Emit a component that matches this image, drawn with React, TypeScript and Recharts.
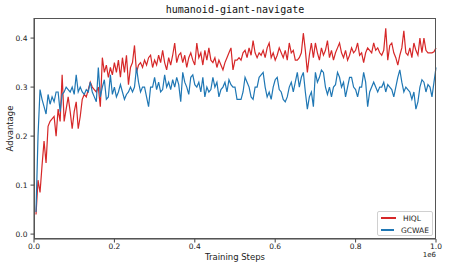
import React from 'react';
import { LineChart, Line, XAxis, YAxis } from 'recharts';

const title = 'humanoid-giant-navigate';
const seriesNames = ['HIQL', 'GCWAE'];
const seriesColors = ['#d62728', '#1f77b4'];
const xTicks = [0, 200000, 400000, 600000, 800000, 1000000];
const yTicks = [0, 0.1, 0.2, 0.3, 0.4];

// evaluation every 5k steps
const hiql = [
  0.04, 0.11, 0.085, 0.14, 0.19, 0.145, 0.22, 0.23, 0.235, 0.24,
  0.2, 0.255, 0.23, 0.325, 0.23, 0.255, 0.28, 0.25, 0.215, 0.25,
  0.27, 0.215, 0.24, 0.275, 0.285, 0.28, 0.295, 0.31, 0.3, 0.295,
  0.29, 0.3, 0.26, 0.36, 0.33, 0.345, 0.32, 0.34, 0.325, 0.35,
  0.33, 0.355, 0.32, 0.36, 0.33, 0.365, 0.305, 0.34, 0.35, 0.385,
  0.33, 0.345, 0.35, 0.34, 0.355, 0.345, 0.36, 0.365, 0.34, 0.355,
  0.345, 0.365, 0.35, 0.375, 0.35, 0.335, 0.36, 0.345, 0.365, 0.39,
  0.35, 0.365, 0.37, 0.35, 0.365, 0.34, 0.36, 0.37, 0.355, 0.345,
  0.39, 0.36, 0.37, 0.345, 0.375, 0.355, 0.38, 0.355, 0.35, 0.36,
  0.34, 0.355, 0.345, 0.335, 0.35, 0.36, 0.37, 0.38, 0.335, 0.355,
  0.355, 0.36, 0.355, 0.37, 0.375, 0.36, 0.38, 0.365, 0.395, 0.37,
  0.36, 0.37, 0.365, 0.375, 0.36, 0.38, 0.39, 0.36, 0.37, 0.355,
  0.365, 0.38, 0.37, 0.36, 0.375, 0.355, 0.39, 0.37, 0.375, 0.355,
  0.355, 0.36, 0.37, 0.41, 0.375, 0.33, 0.365, 0.39, 0.36, 0.39,
  0.37, 0.355, 0.38, 0.365, 0.375, 0.395, 0.36, 0.375, 0.355, 0.37,
  0.38, 0.39, 0.37, 0.36, 0.375, 0.355, 0.365, 0.38, 0.37, 0.375,
  0.39, 0.365, 0.37, 0.35, 0.37, 0.38, 0.375, 0.37, 0.39, 0.375,
  0.38, 0.37, 0.365, 0.375, 0.42, 0.355, 0.385, 0.39, 0.37, 0.36,
  0.345, 0.365, 0.38, 0.415, 0.37, 0.365, 0.38, 0.36, 0.39, 0.375,
  0.365, 0.4, 0.37, 0.4, 0.375, 0.37, 0.37, 0.37, 0.372, 0.38,
];

const gcwae = [
  0.045, 0.2, 0.295, 0.275, 0.26, 0.245, 0.285, 0.265, 0.28, 0.27,
  0.29, 0.29, 0.25, 0.285, 0.29, 0.3, 0.295, 0.29, 0.3, 0.285,
  0.325, 0.29, 0.3, 0.29, 0.285, 0.295, 0.29, 0.31, 0.29, 0.28,
  0.27, 0.34, 0.28, 0.3, 0.315, 0.275, 0.28, 0.325, 0.285, 0.3,
  0.28, 0.29, 0.305, 0.29, 0.275, 0.285, 0.29, 0.3, 0.29, 0.3,
  0.34, 0.31, 0.29, 0.3, 0.3, 0.28, 0.26, 0.3, 0.3, 0.32,
  0.295, 0.31, 0.29, 0.295, 0.325, 0.3, 0.31, 0.295, 0.315, 0.3,
  0.32, 0.305, 0.27, 0.33, 0.31, 0.3, 0.285, 0.32, 0.325, 0.305,
  0.3, 0.31, 0.29, 0.32, 0.28, 0.3, 0.29, 0.295, 0.32, 0.3,
  0.31, 0.28, 0.295, 0.3, 0.31, 0.29, 0.315, 0.305, 0.3, 0.3,
  0.275, 0.275, 0.275, 0.29, 0.32, 0.31, 0.3, 0.28, 0.275, 0.3,
  0.3, 0.32, 0.325, 0.33, 0.3, 0.28, 0.29, 0.275, 0.3, 0.315,
  0.32, 0.295, 0.29, 0.275, 0.27, 0.28, 0.3, 0.31, 0.29, 0.31,
  0.33, 0.3, 0.32, 0.33, 0.29, 0.255, 0.28, 0.29, 0.26, 0.33,
  0.31, 0.32, 0.335, 0.33, 0.3, 0.285, 0.3, 0.28, 0.3, 0.305,
  0.33, 0.32, 0.3, 0.31, 0.28, 0.3, 0.32, 0.32, 0.3, 0.295,
  0.28, 0.3, 0.3, 0.33, 0.31, 0.26, 0.29, 0.3, 0.31, 0.3,
  0.29, 0.3, 0.3, 0.31, 0.29, 0.305, 0.3, 0.295, 0.28, 0.3,
  0.32, 0.335, 0.31, 0.29, 0.3, 0.295, 0.29, 0.275, 0.29, 0.255,
  0.27, 0.3, 0.315, 0.31, 0.29, 0.305, 0.3, 0.28, 0.31, 0.34,
];

const steps = hiql.map((_, i) => (i + 1) * 5000);
const data = steps.map((s, i) => ({ step: s, HIQL: hiql[i], GCWAE: gcwae[i] }));

const font = '"DejaVu Sans", sans-serif';

export default function App() {
  return (
    <div style={{ position: 'absolute', left: 0, top: 0, width: 449, height: 269, background: '#fff' }}>
      <div
        style={{
          position: 'absolute',
          left: 34,
          width: 402,
          top: 4,
          textAlign: 'center',
          fontFamily: '"DejaVu Sans Mono", monospace',
          fontSize: 10,
          color: '#111',
        }}
      >
        {title}
      </div>
      <LineChart width={449} height={269} data={data} margin={{ top: 18, right: 13, bottom: 0, left: 8 }}>
        <XAxis
          dataKey="step"
          type="number"
          domain={[0, 1000000]}
          ticks={xTicks}
          tickFormatter={(v: number) => (v / 1e6).toFixed(1)}
          height={30}
          tickSize={3.5}
          tickMargin={1.5}
          stroke="#444"
          tick={{ fontSize: 7.5, fill: '#222', fontFamily: font }}
          label={{ value: 'Training Steps', position: 'insideBottom', offset: 9, fontSize: 8.5, fill: '#222', fontFamily: font }}
        />
        <YAxis
          type="number"
          domain={[-0.01, 0.441]}
          allowDataOverflow
          ticks={yTicks}
          tickFormatter={(v: number) => v.toFixed(1)}
          width={26}
          tickSize={3.5}
          tickMargin={3}
          stroke="#444"
          tick={{ fontSize: 7.5, fill: '#222', fontFamily: font }}
          label={{ value: 'Advantage', angle: -90, position: 'insideLeft', offset: 2, fontSize: 8.5, fill: '#222', fontFamily: font, style: { textAnchor: 'middle' } }}
        />
        <Line type="linear" dataKey="HIQL" stroke={seriesColors[0]} strokeWidth={1.2} dot={false} isAnimationActive={false} />
        <Line type="linear" dataKey="GCWAE" stroke={seriesColors[1]} strokeWidth={1.2} dot={false} isAnimationActive={false} />
      </LineChart>
      <div
        style={{
          position: 'absolute',
          left: 34,
          top: 18,
          width: 402,
          height: 221,
          boxSizing: 'border-box',
          border: '1px solid #555',
          pointerEvents: 'none',
        }}
      />
      <div
        style={{
          position: 'absolute',
          left: 377,
          top: 211,
          width: 56,
          height: 25,
          boxSizing: 'border-box',
          border: '1px solid #d0d0d0',
          borderRadius: 2,
          background: 'rgba(255,255,255,0.8)',
          padding: '0 3px',
          fontFamily: font,
          fontSize: 7.5,
          color: '#222',
        }}
      >
        {seriesNames.map((n, i) => (
          <div key={n} style={{ display: 'flex', alignItems: 'center', height: 12 }}>
            <div style={{ width: 15, height: 1.3, background: seriesColors[i], marginRight: 7 }} />
            <span>{n}</span>
          </div>
        ))}
      </div>
      <div style={{ position: 'absolute', right: 13, top: 251, fontFamily: font, fontSize: 7, color: '#222' }}>1e6</div>
    </div>
  );
}
